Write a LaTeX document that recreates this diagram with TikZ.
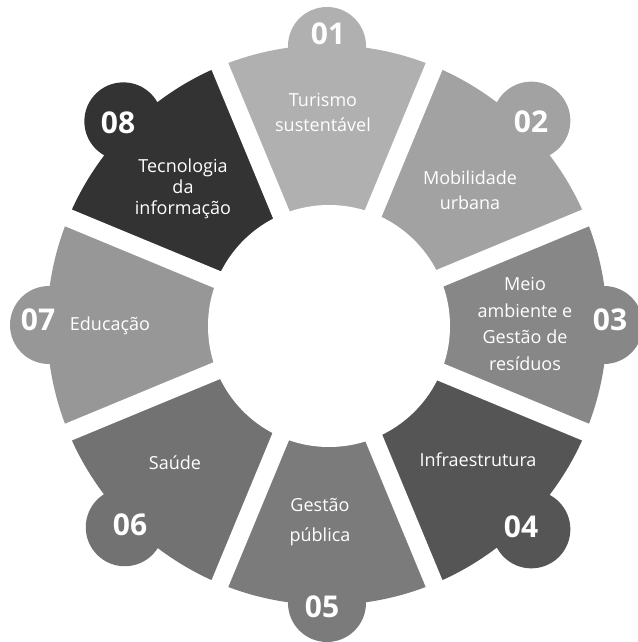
\documentclass[tikz,border=0pt]{standalone}
\usepackage{fontspec}
\setmainfont{Open Sans}
\usepackage{tikz}

\definecolor{c01}{HTML}{B0B0B0}
\definecolor{c02}{HTML}{A2A2A2}
\definecolor{c03}{HTML}{878787}
\definecolor{c04}{HTML}{555555}
\definecolor{c05}{HTML}{7B7B7B}
\definecolor{c06}{HTML}{727272}
\definecolor{c07}{HTML}{979797}
\definecolor{c08}{HTML}{333333}

\begin{document}
\begin{tikzpicture}[x=1pt, y=1pt,
    % --- 样式 ---
    gapline/.style={white, line width=18pt},
    numtext/.style={text=white, font=\fontsize{30}{32}\selectfont\bfseries},
    labeltext/.style={text=white, align=center, font=\fontsize{18}{25}\selectfont}
]

    % 画布大小 (与原图比例一致)
    \useasboundingbox (-327,-317) rectangle (310,325);
    \fill[white] (-327,-317) rectangle (310,325);

    % =========================================
    % 【环形扇区 + 圆形标签】 外半径 280, 标签半径 39
    % =========================================
    \fill[c01] (0,0) -- (67.5:280) arc[start angle=67.5, end angle=112.5, radius=280] -- cycle
        (90:279) circle[radius=39];
    \fill[c02] (0,0) -- (22.5:280) arc[start angle=22.5, end angle=67.5, radius=280] -- cycle
        (45:289) circle[radius=39];
    \fill[c03] (0,0) -- (-22.5:280) arc[start angle=-22.5, end angle=22.5, radius=280] -- cycle
        (0:277) circle[radius=39];
    \fill[c04] (0,0) -- (-67.5:280) arc[start angle=-67.5, end angle=-22.5, radius=280] -- cycle
        (-45:289) circle[radius=39];
    \fill[c05] (0,0) -- (-112.5:280) arc[start angle=-112.5, end angle=-67.5, radius=280] -- cycle
        (-90:278) circle[radius=39];
    \fill[c06] (0,0) -- (-157.5:280) arc[start angle=-157.5, end angle=-112.5, radius=280] -- cycle
        (-135:286) circle[radius=39];
    \fill[c07] (0,0) -- (157.5:280) arc[start angle=157.5, end angle=202.5, radius=280] -- cycle
        (180:278) circle[radius=39];
    \fill[c08] (0,0) -- (112.5:280) arc[start angle=112.5, end angle=157.5, radius=280] -- cycle
        (135:288) circle[radius=39];

    % --- 白色间隔 ---
    \draw[gapline] (0,0) -- (22.5:300);
    \draw[gapline] (0,0) -- (67.5:300);
    \draw[gapline] (0,0) -- (112.5:300);
    \draw[gapline] (0,0) -- (157.5:300);
    \draw[gapline] (0,0) -- (202.5:300);
    \draw[gapline] (0,0) -- (247.5:300);
    \draw[gapline] (0,0) -- (292.5:300);
    \draw[gapline] (0,0) -- (337.5:300);

    % --- 中心白圆 ---
    \fill[white] (2,-1) circle[radius=121];

    % =========================================
    % 【编号】
    % =========================================
    \node[numtext] (n01) at (1,291) {01};
    \node[numtext] (n02) at (204,203) {02};
    \node[numtext] (n03) at (283,5) {03};
    \node[numtext] (n04) at (194,-202) {04};
    \node[numtext] (n05) at (-5,-282) {05};
    \node[numtext] (n06) at (-197,-200) {06};
    \node[numtext] (n07) at (-289,5) {07};
    \node[numtext] (n08) at (-209,202) {08};

    % =========================================
    % 【文字】
    % =========================================
    \node[labeltext] (t01) at (-4,213) {Turismo\\sustentável};
    \node[labeltext] (t02) at (143,135) {Mobilidade\\urbana};
    \node[labeltext, font=\fontsize{18}{26.5}\selectfont] (t03) at (198,1) {Meio\\ambiente e\\Gestão de\\resíduos};
    \node[labeltext] (t04) at (151,-135) {Infraestrutura};
    \node[labeltext, font=\fontsize{18}{30}\selectfont] (t05) at (-7,-197) {Gestão\\pública};
    \node[labeltext] (t06) at (-152,-138) {Saúde};
    \node[labeltext] (t07) at (-217,-1) {Educação};
    \node[labeltext, font=\fontsize{18}{21}\selectfont] (t08) at (-144,136) {Tecnologia\\da\\informação};

\end{tikzpicture}
\end{document}
